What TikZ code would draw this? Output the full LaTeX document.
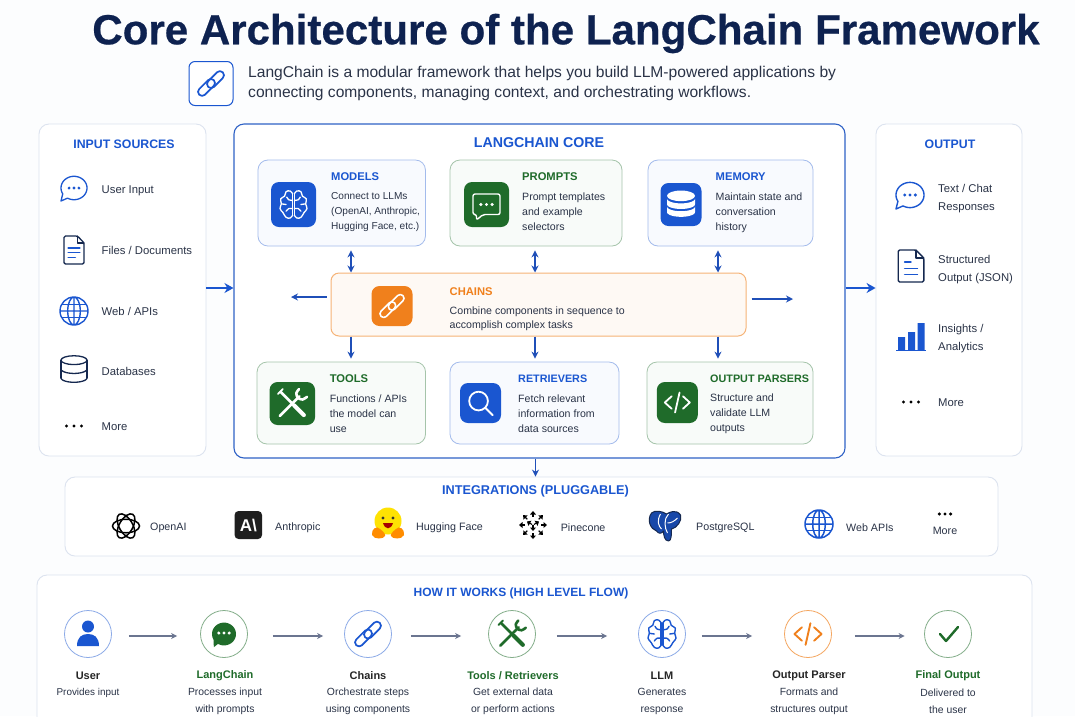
\documentclass[tikz,border=0pt]{standalone}
\usepackage{fontspec}
\setmainfont{Liberation Sans}
\usetikzlibrary{arrows.meta,calc}
\definecolor{bgc}{HTML}{FCFDFE}
\definecolor{navy}{HTML}{0E2250}
\definecolor{blu}{HTML}{1A56D0}
\definecolor{coreb}{HTML}{2F62C6}
\definecolor{grn}{HTML}{1F6B2A}
\definecolor{org}{HTML}{F0801C}
\definecolor{ink}{HTML}{2A3347}
\definecolor{dark}{HTML}{15284F}
\definecolor{arr}{HTML}{1F4FB8}
\definecolor{gra}{HTML}{6B7590}
\definecolor{panelb}{HTML}{DCE3EF}
\tikzset{
 x=1pt,y=-1pt,
 card/.style={draw,rounded corners=10pt,line width=.8pt,inner sep=0pt},
 bluecard/.style={card,draw=blu!40,fill=blu!3},
 greencard/.style={card,draw=grn!40,fill=grn!3},
 panel/.style={draw=panelb,fill=white,rounded corners=10pt,line width=.9pt,inner sep=0pt},
 tile/.style={rounded corners=8pt,inner sep=0pt,minimum width=44pt,minimum height=44pt},
 ring/.style={circle,fill=white,line width=.8pt,minimum size=47pt,inner sep=0pt},
 head/.style={font=\fontsize{11.2}{14}\selectfont\bfseries,inner sep=0pt},
 sec/.style={font=\fontsize{12.3}{14}\selectfont\bfseries,inner sep=0pt,text=blu,anchor=center},
 body/.style={font=\fontsize{10.6}{15}\selectfont,text=ink,anchor=west,align=left,inner sep=0pt},
 side/.style={font=\fontsize{11.3}{18.2}\selectfont,text=ink,anchor=west,align=left,inner sep=0pt},
 logo/.style={font=\fontsize{10.7}{12}\selectfont,text=ink,anchor=west,inner sep=0pt},
 flowname/.style={font=\fontsize{11}{12}\selectfont\bfseries,anchor=center,inner sep=0pt},
 flowsub/.style={font=\fontsize{10.4}{17}\selectfont,text=ink,anchor=center,align=center,inner sep=0pt},
 conn/.style={draw=arr,line width=1.4pt,-{Stealth[length=7pt,width=7pt]}},
 biconn/.style={draw=arr,line width=1.4pt,{Stealth[length=7pt,width=7pt]}-{Stealth[length=7pt,width=7pt]}},
 bigconn/.style={draw=blu,line width=2pt,-{Stealth[length=9pt,width=10pt]}},
 flowconn/.style={draw=gra,line width=1.3pt,-{Stealth[length=6pt,width=6pt]}},
 ic/.style={line cap=round,line join=round},
}
% #1 x #2 y #3 scale #4 colour #5 line width
\newcommand\IcoLink[5]{\pgfmathsetmacro\rr{0.29*#3}
 \begin{scope}[shift={(#1,#2)},rotate=45,scale=#3,ic,draw=#4,line width=#5pt,rounded corners=\rr pt]
 \draw (-1.2,-.33) rectangle (.32,.27);
 \draw (-.32,-.27) rectangle (1.2,.33);
 \end{scope}}
\newcommand\IcoChat[5]{\begin{scope}[shift={(#1,#2)},scale=#3,ic,draw=#4,line width=#5pt]
 \draw plot[domain=150:480,samples=50] ({cos(\x)},{.9*sin(\x)}) -- (-1,1) -- cycle;
 \fill[#4] (-.38,0) circle (.12) (0,0) circle (.12) (.38,0) circle (.12);
 \end{scope}}
\newcommand\IcoDots[4]{\begin{scope}[shift={(#1,#2)}]
 \fill[#4] (-#3,0) circle (1.7) (0,0) circle (1.7) (#3,0) circle (1.7);\end{scope}}
\newcommand\IcoFile[5]{\begin{scope}[shift={(#1,#2)},scale=#3,ic,draw=#4,line width=#5pt]
 \draw[rounded corners=1.5pt] (-.72,-1)--(.25,-1)--(.72,-.5)--(.72,1)--(-.72,1)--cycle;
 \draw (.25,-1)--(.25,-.5)--(.72,-.5);
 \draw[blu] (-.42,-.15)--(.42,-.15) (-.42,.2)--(.42,.2) (-.42,.55)--(.1,.55);
 \end{scope}}
\newcommand\IcoGlobe[5]{\begin{scope}[shift={(#1,#2)},scale=#3,ic,draw=#4,line width=#5pt]
 \draw (0,0) circle (1) (0,0) ellipse (.45 and 1) (0,-1)--(0,1) (-1,0)--(1,0);
 \draw (-.85,-.48)--(.85,-.48) (-.85,.48)--(.85,.48);
 \end{scope}}
\newcommand\IcoDB[5]{\begin{scope}[shift={(#1,#2)},scale=#3,ic,draw=#4,line width=#5pt]
 \draw (0,-.68) ellipse (1 and .34);
 \draw (-1,-.68)--(-1,.68) (1,-.68)--(1,.68);
 \draw plot[domain=0:180,samples=20] ({cos(\x)},{.34*sin(\x)});
 \draw plot[domain=0:180,samples=20] ({cos(\x)},{.68+.34*sin(\x)});
 \end{scope}}
\newcommand\IcoBrain[5]{\begin{scope}[shift={(#1,#2)},scale=#3,ic,draw=#4,line width=#5pt]
 \foreach \sgn in {-1,1}{\begin{scope}[xscale=\sgn]
 \draw plot[smooth,tension=.7] coordinates {(.07,-.8)(.25,-1)(.55,-.95)(.66,-.62)(.95,-.42)(.9,-.05)(1,.3)(.78,.6)(.55,.95)(.25,1)(.07,.8)};
 \draw (.07,-.8)--(.07,.8);
 \draw plot[smooth] coordinates {(.07,-.3)(.35,-.35)(.5,-.55)};
 \draw plot[smooth] coordinates {(.07,.3)(.35,.3)(.55,.5)};
 \draw (.9,-.05)--(.55,0);
 \end{scope}}
 \end{scope}}
\newcommand\IcoTools[5]{\begin{scope}[shift={(#1,#2)},scale=#3,ic,draw=#4,line width=#5pt]
 \draw (-.78,.78)--(.45,-.45);
 \draw plot[smooth] coordinates {(.42,-.9)(.25,-.65)(.35,-.35)(.65,-.25)(.92,-.42)};
 \draw[line width=1.6*#5pt] (.12,.12)--(.72,.72);
 \draw (-.72,-.72)--(.2,.2);
 \draw[line width=.7*#5pt] (-.9,-.6)--(-.6,-.9);
 \end{scope}}
\newcommand\IcoCode[5]{\begin{scope}[shift={(#1,#2)},scale=#3,ic,draw=#4,line width=#5pt]
 \draw (-.45,-.5)--(-1,0)--(-.45,.5) (.45,-.5)--(1,0)--(.45,.5) (.18,-.8)--(-.18,.8);
 \end{scope}}
\newcommand\IcoLens[5]{\begin{scope}[shift={(#1,#2)},scale=#3,ic,draw=#4,line width=#5pt]
 \draw (-.15,-.15) circle (.72) (.38,.38)--(.95,.95);
 \end{scope}}
\begin{document}
\begin{tikzpicture}
\useasboundingbox (0,0) rectangle (1075,716);
\clip (0,0) rectangle (1075,716);
\fill[bgc] (0,0) rectangle (1075,716);

% title
\node[font=\fontsize{42.1}{48}\selectfont\bfseries\addfontfeature{FakeBold=0.5},text=navy,inner sep=0pt] (title) at (566,33.5) {Core Architecture of the LangChain Framework};
\node[draw=blu,fill=white,rounded corners=6pt,line width=1pt,minimum width=44pt,minimum height=44pt,inner sep=0pt] (intro) at (211,83.5) {};
\IcoLink{211}{83.5}{13.5}{blu}{1.7}
\node[font=\fontsize{15.6}{20}\selectfont,text=ink,anchor=west,align=left,inner sep=0pt] (introtext) at (248,83.5) {LangChain is a modular framework that helps you build LLM-powered applications by\\connecting components, managing context, and orchestrating workflows.};

% panels
\node[panel,minimum width=167pt,minimum height=332pt] (input) at (122.5,290) {};
\node[panel,minimum width=146pt,minimum height=332pt] (output) at (949,290) {};
\node[draw=coreb,fill=white,rounded corners=10pt,line width=1.1pt,minimum width=611pt,minimum height=334pt,inner sep=0pt] (core) at (539.5,291) {};
\node[panel,minimum width=933pt,minimum height=79pt] (integr) at (531.5,516.5) {};
\node[panel,minimum width=995pt,minimum height=200pt] (flowbox) at (534.5,675) {};

% input panel
\node[sec] (inputT) at (124,144) {INPUT SOURCES};
\IcoChat{74}{188}{13}{blu}{1.3}
\node[side] (i1) at (101.5,191) {User Input};
\IcoFile{74}{250}{14}{dark}{1.3}
\node[side] (i2) at (101.5,250.5) {Files / Documents};
\IcoGlobe{74}{311}{14}{blu}{1.4}
\node[side] (i3) at (101.5,311.5) {Web / APIs};
\IcoDB{74}{369}{13}{dark}{1.3}
\node[side] (i4) at (101.5,371.5) {Databases};
\IcoDots{74}{426}{7.5}{black}
\node[side] (i5) at (101.5,426.5) {More};

% output panel
\node[sec] (outputT) at (950,144) {OUTPUT};
\IcoChat{910}{195}{14}{blu}{1.4}
\node[side] (o1) at (938,198.5) {Text / Chat\\Responses};
\begin{scope}[shift={(911,266)},scale=16,ic,draw=dark,line width=1.4pt]
 \draw[rounded corners=1.5pt] (-.8,-1)--(.3,-1)--(.8,-.5)--(.8,1)--(-.8,1)--cycle;
 \draw (.3,-1)--(.3,-.5)--(.8,-.5);
 \draw[blu] (-.4,-.25)--(0,-.25) (-.4,.15)--(.4,.15) (-.4,.52)--(.4,.52);
\end{scope}
\node[side] (o2) at (938,269.2) {Structured\\Output (JSON)};
\fill[blu] (898,337) rectangle (905,350) (908,332) rectangle (915,350) (917.5,323) rectangle (924.5,350);
\draw[blu,line width=1.2pt] (896,350.5)--(926,350.5);
\node[side] (o3) at (938,338.8) {Insights /\\Analytics};
\IcoDots{911}{402}{7.5}{black}
\node[side] (o4) at (938,402.5) {More};

% core
\node[sec,font=\fontsize{14.2}{16}\selectfont\bfseries] (coreT) at (539,143) {LANGCHAIN CORE};
\node[bluecard,minimum width=167.5pt,minimum height=86pt] (models) at (341.7,203) {};
\node[greencard,minimum width=172pt,minimum height=86pt] (prompts) at (536,203) {};
\node[bluecard,minimum width=165pt,minimum height=86pt] (memory) at (730.5,203) {};
\node[draw=org!60,fill=org!5,rounded corners=8pt,line width=1pt,minimum width=415pt,minimum height=63pt,inner sep=0pt] (chains) at (538.5,304.5) {};
\node[greencard,minimum width=168.5pt,minimum height=82pt] (tools) at (341.3,403) {};
\node[bluecard,minimum width=169pt,minimum height=82pt] (retr) at (534.5,403) {};
\node[greencard,minimum width=166pt,minimum height=82pt] (parsers) at (730,403) {};

% tiles
\node[tile,fill=blu,minimum width=45pt,minimum height=45pt] (tm) at (293.5,204.5) {};
\IcoBrain{293.5}{204.5}{13.5}{white}{1.3}
\node[tile,fill=grn,minimum width=45pt,minimum height=45pt] (tp) at (486.5,204.5) {};
\begin{scope}[ic]
 \draw[white,line width=1.4pt,rounded corners=2pt] (473,194)--(500,194)--(500,214.5)--(483,214.5)--(476.5,220)--(476.5,214.5)--(473,214.5)--cycle;
\end{scope}
\IcoDots{486.5}{204.5}{5.6}{white}
\node[tile,fill=blu,minimum width=41pt,minimum height=43pt] (tmem) at (681,204.5) {};
\begin{scope}[shift={(681,204.5)},scale=14]
 \fill[white] (0,-.62) ellipse (1 and .38);
 \fill[white] plot[domain=0:180,samples=20] ({cos(\x)},{-.02+.34*sin(\x)}) -- (-1,-.42) -- plot[domain=180:0,samples=20] ({cos(\x)},{-.42+.34*sin(\x)}) -- cycle;
 \fill[white] plot[domain=0:180,samples=20] ({cos(\x)},{.54+.34*sin(\x)}) -- (-1,.14) -- plot[domain=180:0,samples=20] ({cos(\x)},{.14+.34*sin(\x)}) -- cycle;
\end{scope}
\node[tile,fill=org,minimum width=41pt,minimum height=40pt] (tc) at (392,306) {};
\IcoLink{392}{306}{12.5}{white}{1.6}
\node[tile,fill=grn,minimum width=45.5pt,minimum height=43pt] (tt) at (292.3,403.5) {};
\IcoTools{292.3}{403.5}{16}{white}{2.6}
\node[tile,fill=blu,minimum width=41pt,minimum height=40pt] (tr) at (480.5,403) {};
\IcoLens{480.5}{403}{13}{white}{1.8}
\node[tile,fill=grn,minimum width=41pt,minimum height=41pt] (tpa) at (677.3,402.5) {};
\IcoCode{677.3}{402.5}{12.5}{white}{1.8}

% card text
\node[head,text=blu,anchor=west] (mH) at (331,176.5) {MODELS};
\node[body,font=\fontsize{10.1}{15}\selectfont] (mB) at (331,212) {Connect to LLMs\\(OpenAI, Anthropic,\\Hugging Face, etc.)};
\node[head,text=grn,anchor=west] (pH) at (522,176.5) {PROMPTS};
\node[body] (pB) at (522,212) {Prompt templates\\and example\\selectors};
\node[head,text=blu,anchor=west] (meH) at (715.5,176.5) {MEMORY};
\node[body] (meB) at (715.5,212.5) {Maintain state and\\conversation\\history};
\node[head,text=org,anchor=west] (cH) at (449.5,292) {CHAINS};
\node[body,font=\fontsize{10.6}{14}\selectfont] (cB) at (449.5,318.5) {Combine components in sequence to\\accomplish complex tasks};
\node[head,text=grn,anchor=west] (tH) at (329.6,379) {TOOLS};
\node[body] (tB) at (329.6,413.5) {Functions / APIs\\the model can\\use};
\node[head,text=blu,anchor=west,font=\fontsize{10.8}{14}\selectfont\bfseries] (rH) at (518,379) {RETRIEVERS};
\node[body] (rB) at (518,413.5) {Fetch relevant\\information from\\data sources};
\node[head,text=grn,anchor=west,font=\fontsize{10.8}{14}\selectfont\bfseries] (oH) at (710,379) {OUTPUT PARSERS};
\node[body] (oB) at (710,413.5) {Structure and\\validate LLM\\outputs};

% core arrows
\coordinate (cl) at (291,297);
\coordinate (cr) at (793,299);
\draw[biconn] ([xshift=9.3pt,yshift=-4pt]models.south) -- ([xshift=-187.5pt]chains.north);
\draw[biconn] ([xshift=-1pt,yshift=-4pt]prompts.south) -- ([xshift=-3.5pt]chains.north);
\draw[biconn] ([xshift=-12.5pt,yshift=-4pt]memory.south) -- ([xshift=179.5pt]chains.north);
\draw[conn] ([xshift=-187.5pt]chains.south) -- ([xshift=9.7pt,yshift=3pt]tools.north);
\draw[conn] ([xshift=-3.5pt]chains.south) -- ([xshift=.5pt,yshift=3pt]retr.north);
\draw[conn] ([xshift=179.5pt]chains.south) -- ([xshift=-12pt,yshift=3pt]parsers.north);
\draw[conn] ([xshift=-4pt,yshift=7.5pt]chains.west) -- (cl);
\draw[conn] ([xshift=5pt,yshift=5.5pt]chains.east) -- (cr);
\draw[bigconn] (input.east |- 0,288) -- (core.west |- 0,288);
\draw[bigconn] (core.east |- 0,288) -- (output.west |- 0,288);
\draw[conn] ([xshift=-4pt]core.south) -- ([xshift=4pt]integr.north);

% integrations
\node[sec,font=\fontsize{12.7}{14}\selectfont\bfseries] (intT) at (535.5,491.5) {INTEGRATIONS (PLUGGABLE)};
\begin{scope}[shift={(126,526)},scale=13.5,line width=1.5pt,draw=black]
 \foreach \a in {0,60,120}{\draw[rotate=\a] (0,0) ellipse (1 and .5);}
\end{scope}
\node[logo] (l1) at (150,527.5) {OpenAI};
\node[tile,fill=black!88,minimum width=27.5pt,minimum height=28pt,rounded corners=4pt,text=white,font=\fontsize{17}{17}\selectfont\bfseries] (l2i) at (248.3,525) {A\symbol{92}};
\node[logo] (l2) at (275,527.5) {Anthropic};
\begin{scope}[shift={(388,521)}]
 \fill[yellow!85!orange] (0,0) circle (13.5);
 \fill[black!80] (-5,-3) circle (1.7) (5,-3) circle (1.7);
 \fill[red!65!black] (-5,2) .. controls (-3,9) and (3,9) .. (5,2) -- cycle;
 \fill[orange!90!yellow] (-16,14) .. controls (-17,8) and (-11,4) .. (-8,8) .. controls (-4,11) and (-2,14) .. (-3,15) .. controls (-4,18) and (-14,19) .. (-16,14);
 \fill[orange!90!yellow] (16,14) .. controls (17,8) and (11,4) .. (8,8) .. controls (4,11) and (2,14) .. (3,15) .. controls (4,18) and (14,19) .. (16,14);
\end{scope}
\node[logo] (l3) at (416,527.5) {Hugging Face};
\begin{scope}[shift={(533,525)},black,line width=1.1pt]
 \foreach \a/\r in {-90/11,-45/11,0/11,45/11,90/11,135/11,180/11,225/11,-90/3,30/4,150/4}{
  \draw[rotate=\a] (\r-3,0) -- (\r,0);
  \fill[rotate=\a] (\r+3,0) -- (\r-.5,-3) -- (\r-.5,3) -- cycle;
 }
\end{scope}
\node[logo] (l4) at (560.6,527.5) {Pinecone};
\begin{scope}[shift={(665.5,526)},line join=round]
 \fill[blu!70!dark,draw=dark,line width=1pt] (-14,-13) .. controls (-19,-6) and (-15,3) .. (-9,5) .. controls (-7,8) and (-4,8) .. (-2,5) .. controls (-2,9) and (-1,15) .. (3,15) .. controls (6,15) and (6,8) .. (6,3) .. controls (11,2) and (17,-5) .. (15,-11) .. controls (11,-17) and (4,-14) .. (1,-12) .. controls (-3,-15) and (-11,-16) .. (-14,-13) -- cycle;
 \draw[white,line width=1pt] (-5,-12) .. controls (-9,-5) and (-7,0) .. (-4,3) (3,-12) .. controls (-2,-7) and (-1,2) .. (2,7) (2,-3) .. controls (6,-3) and (9,-5) .. (12,-8);
\end{scope}
\node[logo] (l5) at (696,527.5) {PostgreSQL};
\IcoGlobe{819}{524}{14}{blu}{1.5}
\node[logo] (l6) at (846,527.5) {Web APIs};
\IcoDots{945}{514}{5.6}{black}
\node[logo,anchor=center] (l7) at (945,530.5) {More};

% flow
\node[sec,font=\fontsize{12}{14}\selectfont\bfseries] (flowT) at (521,593.5) {HOW IT WORKS (HIGH LEVEL FLOW)};
\node[ring,draw=blu!50] (f1) at (88,634) {};
\node[ring,draw=grn!55] (f2) at (224,634) {};
\node[ring,draw=blu!50] (f3) at (368,634) {};
\node[ring,draw=grn!55] (f4) at (512,634) {};
\node[ring,draw=blu!50] (f5) at (662,634) {};
\node[ring,draw=org!70] (f6) at (808,634) {};
\node[ring,draw=grn!55] (f7) at (948,634) {};
\begin{scope}[shift={(88,634)},blu]
 \fill (0,-7.5) circle (6);
 \fill (-11,12) .. controls (-11,3) and (-6,0) .. (0,0) .. controls (6,0) and (11,3) .. (11,12) -- cycle;
\end{scope}
\begin{scope}[shift={(224,634)},scale=12]
 \fill[grn] plot[domain=150:480,samples=50] ({cos(\x)},{.95*sin(\x)}) -- (-.85,1.1) -- cycle;
\end{scope}
\IcoDots{224}{633}{5.2}{white}
\IcoLink{368}{634}{13.5}{blu}{1.7}
\IcoTools{512}{634}{15}{grn}{2.6}
\IcoBrain{662}{634}{14}{blu}{1.4}
\IcoCode{808}{634}{13.5}{org}{1.9}
\draw[grn,line width=2.4pt,ic] (940,634)--(946,641)--(958,627);
\draw[flowconn] ([xshift=17pt,yshift=-2pt]f1.east) -- ([xshift=-23pt,yshift=-2pt]f2.west);
\draw[flowconn] ([xshift=25pt,yshift=-2pt]f2.east) -- ([xshift=-21pt,yshift=-2pt]f3.west);
\draw[flowconn] ([xshift=19pt,yshift=-2pt]f3.east) -- ([xshift=-27pt,yshift=-2pt]f4.west);
\draw[flowconn] ([xshift=21pt,yshift=-2pt]f4.east) -- ([xshift=-31pt,yshift=-2pt]f5.west);
\draw[flowconn] ([xshift=16pt,yshift=-2pt]f5.east) -- ([xshift=-32pt,yshift=-2pt]f6.west);
\draw[flowconn] ([xshift=23pt,yshift=-2pt]f6.east) -- ([xshift=-19.5pt,yshift=-2pt]f7.west);
\node[flowname,text=black!85] (n1) at (88,675.5) {User};
\node[flowsub,font=\fontsize{9.9}{17}\selectfont] (s1) at (88,692.5) {Provides input};
\node[flowname,text=grn] (n2) at (225,675.5) {LangChain};
\node[flowsub] (s2) at (225,701) {Processes input\\with prompts};
\node[flowname,text=black!85] (n3) at (368,675.5) {Chains};
\node[flowsub] (s3) at (368,701) {Orchestrate steps\\using components};
\node[flowname,text=grn] (n4) at (513,675.5) {Tools / Retrievers};
\node[flowsub] (s4) at (513,701) {Get external data\\or perform actions};
\node[flowname,text=black!85] (n5) at (662,675.5) {LLM};
\node[flowsub] (s5) at (662,701) {Generates\\response};
\node[flowname,text=black!85] (n6) at (809,675.5) {Output Parser};
\node[flowsub] (s6) at (809,701) {Formats and\\structures output};
\node[flowname,text=grn] (n7) at (948,675.5) {Final Output};
\node[flowsub] (s7) at (948,701) {Delivered to\\the user};
\end{tikzpicture}
\end{document}
